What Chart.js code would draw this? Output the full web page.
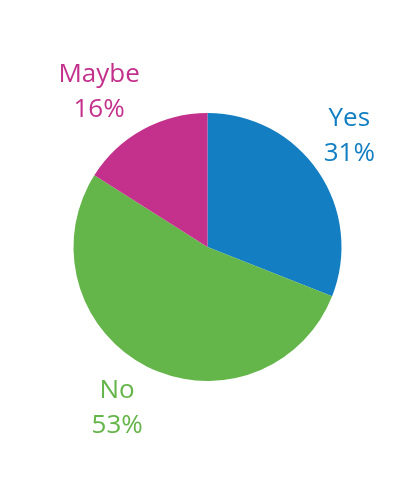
<!DOCTYPE html>
<html>
<head>
<meta charset="utf-8">
<script src="https://cdn.jsdelivr.net/npm/chart.js@4"></script>
<style>
html,body{margin:0;padding:0;background:#fff;}
#wrap{width:420px;height:480px;}
</style>
</head>
<body>
<div id="wrap"><canvas id="c" width="420" height="480"></canvas></div>
<script>
const categories = ['Yes', 'No', 'Maybe'];
const values = [31, 53, 16];
const colors = ['#137fc2', '#64b54a', '#c4318c'];

const labelPlugin = {
  id: 'outerLabels',
  afterDatasetsDraw(chart, args, opts) {
    const ctx = chart.ctx;
    const meta = chart.getDatasetMeta(0);
    const total = values.reduce((a, b) => a + b, 0);
    const nudge = opts.nudge || [];
    ctx.save();
    ctx.font = '26px "Open Sans", "Noto Sans", sans-serif';
    ctx.textAlign = 'center';
    ctx.textBaseline = 'middle';
    meta.data.forEach((arc, i) => {
      const p = arc.getProps(['x', 'y', 'startAngle', 'endAngle', 'outerRadius'], true);
      const mid = (p.startAngle + p.endAngle) / 2;
      const d = p.outerRadius * opts.distance;
      const n = nudge[i] || [0, 0];
      const cx = p.x + Math.cos(mid) * d + n[0];
      const cy = p.y + Math.sin(mid) * d + n[1];
      ctx.fillStyle = colors[i];
      ctx.fillText(categories[i], cx, cy - 17);
      ctx.fillText(Math.round(values[i] / total * 100) + '%', cx, cy + 18);
    });
    ctx.restore();
  }
};

new Chart(document.getElementById('c'), {
  type: 'pie',
  data: {
    labels: categories,
    datasets: [{
      data: values,
      backgroundColor: colors,
      borderWidth: 0
    }]
  },
  options: {
    responsive: false,
    animation: false,
    layout: { padding: { left: 73, right: 78, top: 113, bottom: 99 } },
    plugins: {
      legend: { display: false },
      tooltip: { enabled: false },
      outerLabels: { distance: 1.37, nudge: [[-10, -8], [-7, -3], [-20, 5]] }
    }
  },
  plugins: [labelPlugin]
});
</script>
</body>
</html>
